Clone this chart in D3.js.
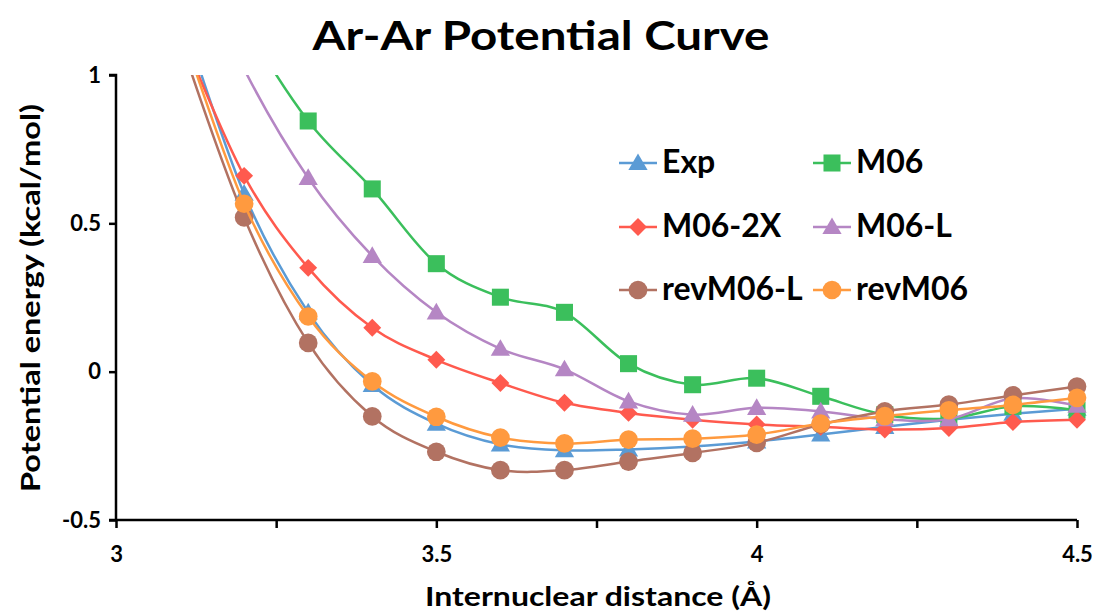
<!DOCTYPE html>
<head>
    <meta charset="utf-8">
    <script src="https://d3js.org/d3.v7.min.js"></script>
    <style>
        body { margin: 0; background: #fff; }
        text { font-family: Lato, "DejaVu Sans", sans-serif; font-weight: bold; fill: #000; }
    </style>
</head>
<body>
    <div id="chart"></div>
    <script>
        // distances (Angstrom) and energies (kcal/mol)
        var distances = [3.1, 3.2, 3.3, 3.4, 3.5, 3.6, 3.7, 3.8, 3.9, 4.0, 4.1, 4.2, 4.3, 4.4, 4.5]
        var expValues = [1.22, 0.6, 0.2, -0.045, -0.175, -0.245, -0.265, -0.262, -0.252, -0.235, -0.212, -0.186, -0.162, -0.142, -0.125]
        var m06Values = [1.6, 1.18, 0.845, 0.616, 0.364, 0.251, 0.2, 0.027, -0.044, -0.022, -0.083, -0.145, -0.158, -0.117, -0.13]
        var m062xValues = [1.15, 0.66, 0.35, 0.148, 0.04, -0.038, -0.105, -0.139, -0.162, -0.178, -0.186, -0.195, -0.19, -0.17, -0.162]
        var m06lValues = [1.5, 1.02, 0.653, 0.39, 0.2, 0.077, 0.008, -0.1, -0.145, -0.122, -0.134, -0.16, -0.16, -0.09, -0.115]
        var revM06lValues = [1.12, 0.52, 0.097, -0.151, -0.27, -0.332, -0.332, -0.303, -0.274, -0.24, -0.178, -0.134, -0.111, -0.08, -0.05]
        var revM06Values = [1.17, 0.566, 0.186, -0.033, -0.152, -0.222, -0.242, -0.229, -0.226, -0.212, -0.175, -0.15, -0.13, -0.112, -0.088]

        var seriesNames = ["Exp", "M06", "M06-2X", "M06-L", "revM06-L", "revM06"]
        var seriesColors = ["#5b9bd5", "#3bbf5c", "#ff5a4e", "#b586c4", "#b27262", "#ff9a3f"]
        var seriesShapes = ["triangle", "square", "diamond", "triangle", "circle", "circle"]
        var seriesValues = [expValues, m06Values, m062xValues, m06lValues, revM06lValues, revM06Values]

        var xTicks = [3, 3.5, 4, 4.5]
        var xMinorTicks = [3, 3.25, 3.5, 3.75, 4, 4.25, 4.5]
        var yTicks = [-0.5, 0, 0.5, 1]

        var W = 1098, H = 615
        var plot = { left: 116, right: 1077, top: 75, bottom: 520 }

        var svg = d3.select("#chart").append("svg")
            .attr("width", W)
            .attr("height", H)

        var x = d3.scaleLinear().domain([3, 4.5]).range([plot.left, plot.right])
        var y = d3.scaleLinear().domain([-0.5, 1]).range([plot.bottom, plot.top])

        svg.append("defs").append("clipPath").attr("id", "plotclip")
            .append("rect")
            .attr("x", plot.left).attr("y", plot.top)
            .attr("width", plot.right - plot.left + 20)
            .attr("height", plot.bottom - plot.top)

        // title
        svg.append("text")
            .attr("x", 541).attr("y", 50)
            .attr("text-anchor", "middle")
            .style("font-size", "40px")
            .attr("textLength", 457)
            .attr("lengthAdjust", "spacingAndGlyphs")
            .text("Ar-Ar Potential Curve")

        // axes
        var yAxis = d3.axisLeft(y).tickValues(yTicks).tickSize(7).tickFormat(d3.format("~g"))
        var yG = svg.append("g").attr("transform", "translate(" + plot.left + ",0)").call(yAxis)
        yG.select(".domain").attr("stroke-width", 2.5).attr("d", "M-7," + plot.top + "H0V" + plot.bottom + "H-7")
        yG.selectAll(".tick line").attr("stroke-width", 2.5)
        yG.selectAll(".tick text")
            .attr("x", -15)
            .style("font-size", "22px")
            .style("font-family", "Lato, sans-serif")
            .style("font-weight", "bold")
            .text(function(d) { return d3.format("~g")(d).replace("−", "-") })

        var xAxis = d3.axisBottom(x).tickValues(xMinorTicks).tickSize(8)
            .tickFormat(function(d) { return xTicks.indexOf(d) >= 0 ? d3.format("~g")(d) : "" })
        var xG = svg.append("g").attr("transform", "translate(0," + plot.bottom + ")").call(xAxis)
        xG.select(".domain").attr("stroke-width", 2.5).attr("d", "M" + plot.left + ",0H" + plot.right)
        xG.selectAll(".tick line").attr("stroke-width", 2.5)
        xG.selectAll(".tick text")
            .attr("y", 26)
            .style("font-size", "22px")
            .style("font-family", "Lato, sans-serif")
            .style("font-weight", "bold")

        // axis titles
        svg.append("text")
            .attr("x", 598).attr("y", 606)
            .attr("text-anchor", "middle")
            .style("font-size", "26px")
            .attr("textLength", 346)
            .attr("lengthAdjust", "spacingAndGlyphs")
            .text("Internuclear distance (Å)")

        svg.append("text")
            .attr("transform", "translate(40,298) rotate(-90)")
            .attr("text-anchor", "middle")
            .style("font-size", "26px")
            .attr("textLength", 388)
            .attr("lengthAdjust", "spacingAndGlyphs")
            .text("Potential energy (kcal/mol)")

        function markerPath(shape) {
            if (shape === "triangle") return d3.symbol(d3.symbolTriangle, 160)()
            if (shape === "square") return d3.symbol(d3.symbolSquare, 290)()
            if (shape === "diamond") return d3.symbol(d3.symbolSquare, 160)()
            return d3.symbol(d3.symbolCircle, 275)()
        }
        function markerTransform(shape, px, py) {
            if (shape === "triangle") return "translate(" + px + "," + (py + 1.5) + ")"
            if (shape === "diamond") return "translate(" + px + "," + py + ") rotate(45)"
            return "translate(" + px + "," + py + ")"
        }

        var line = d3.line()
            .x(function(d) { return x(d[0]) })
            .y(function(d) { return y(d[1]) })
            .curve(d3.curveCardinal.tension(0))

        var seriesG = svg.append("g").attr("clip-path", "url(#plotclip)")

        seriesNames.forEach(function(name, i) {
            var pts = distances.map(function(d, j) { return [d, seriesValues[i][j]] })
            var g = seriesG.append("g").attr("class", "series")
            g.append("path")
                .datum(pts)
                .attr("fill", "none")
                .attr("stroke", seriesColors[i])
                .attr("stroke-width", 2.5)
                .attr("d", line)
            g.selectAll("path.marker")
                .data(pts.filter(function(p) { return p[1] <= 1 }))
                .enter().append("path")
                .attr("class", "marker")
                .attr("d", markerPath(seriesShapes[i]))
                .attr("transform", function(p) { return markerTransform(seriesShapes[i], x(p[0]), y(p[1])) })
                .attr("fill", seriesColors[i])
        })

        // legend
        var legendCols = [619, 813]
        var legendRows = [163, 227, 290]
        var legend = svg.append("g")
        seriesNames.forEach(function(name, i) {
            var lx = legendCols[i % 2], ly = legendRows[Math.floor(i / 2)]
            var g = legend.append("g").attr("transform", "translate(" + lx + "," + ly + ")")
            g.append("line")
                .attr("x1", 0).attr("x2", 38)
                .attr("stroke", seriesColors[i])
                .attr("stroke-width", 2.5)
            g.append("path")
                .attr("d", markerPath(seriesShapes[i]))
                .attr("transform", markerTransform(seriesShapes[i], 19, 0))
                .attr("fill", seriesColors[i])
            g.append("text")
                .attr("x", 43).attr("y", 10)
                .style("font-size", "32px")
                .text(name)
        })
    </script>
</body>
</html>
